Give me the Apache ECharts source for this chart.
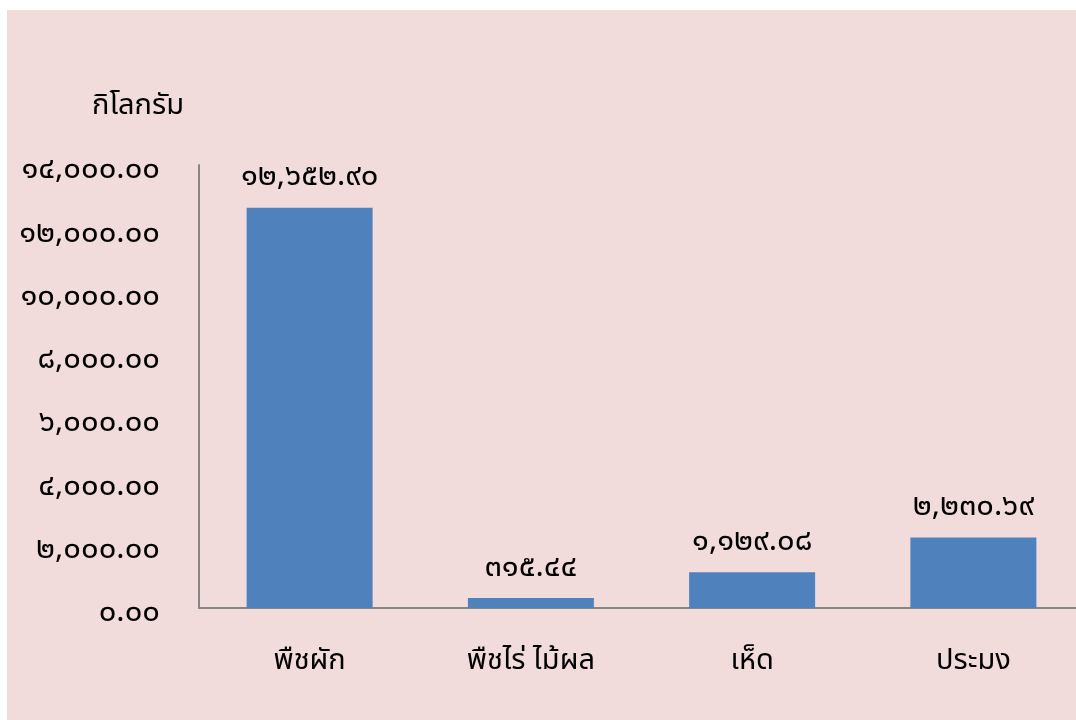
<!DOCTYPE html>
<html><head><meta charset="utf-8">
<script src="https://cdn.jsdelivr.net/npm/echarts@6/dist/echarts.min.js"></script>
<style>
html,body{margin:0;padding:0;width:1076px;height:720px;background:#ffffff;overflow:hidden;}
#bg{position:absolute;left:7px;top:10px;width:1069px;height:710px;background:#f2dcdb;}
#c{position:absolute;left:0;top:0;width:1100px;height:720px;}
</style></head>
<body><div id="bg"></div><div id="c"></div>
<script>
const categories = ['พืชผัก', 'พืชไร่ ไม้ผล', 'เห็ด', 'ประมง'];
const values = [12652.90, 315.44, 1129.08, 2230.69];
const unitLabel = 'กิโลกรัม';

const thaiDigits = '๐๑๒๓๔๕๖๗๘๙';
function toThai(s){ return String(s).replace(/[0-9]/g, d => thaiDigits[+d]); }
function fmt(v){
  const p = v.toFixed(2).split('.');
  p[0] = p[0].replace(/\B(?=(\d{3})+(?!\d))/g, ',');
  return toThai(p.join('.'));
}
const FONT = 'Tahoma, "Noto Sans Thai", "Noto Sans", sans-serif';
const chart = echarts.init(document.getElementById('c'), null, {renderer:'canvas'});
chart.setOption({
  backgroundColor: 'transparent',
  animation: false,
  graphic: [{type:'text', left: 92, top: 94, style:{text: unitLabel, fontSize: 29, fill:'#000', fontFamily: FONT}}],
  grid: [
    {left: 199, top: 165, width: 885, bottom: 112, containLabel: false},
    {left: 199, top: 172, width: 885, bottom: 105, containLabel: false}
  ],
  xAxis: [{
    type: 'category', data: categories, gridIndex: 0,
    axisLine: {lineStyle:{color:'#868686', width:2}},
    axisTick: {show:false},
    axisLabel: {fontSize: 29, color:'#000', margin: 41, fontFamily: FONT}
  }, {
    type: 'category', data: categories, gridIndex: 1, show: false
  }],
  yAxis: [{
    type: 'value', min: 0, max: 14000, interval: 2000, gridIndex: 0,
    splitLine: {show:false},
    axisLine: {show:true, lineStyle:{color:'#868686', width:2}},
    axisTick: {show:false},
    axisLabel: {show:false}
  }, {
    type: 'value', min: 0, max: 14000, interval: 2000, gridIndex: 1,
    splitLine: {show:false},
    axisLine: {show:false},
    axisTick: {show:false},
    axisLabel: {fontSize: 31, color:'#000', margin: 39, fontFamily: FONT, formatter: v => fmt(v)}
  }],
  series: [{
    type: 'bar', data: values, barWidth: 126, xAxisIndex: 0, yAxisIndex: 0,
    itemStyle: {color:'#4f81bd'},
    label: {show:true, position:'top', distance: 13, fontSize: 31, color:'#000', fontFamily: FONT, formatter: p => fmt(p.value)}
  }]
});
</script></body></html>
